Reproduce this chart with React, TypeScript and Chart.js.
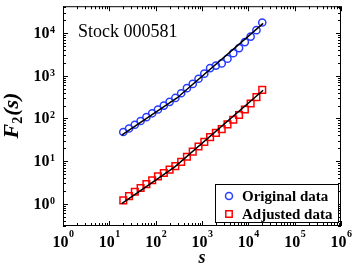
import { useEffect, useRef } from 'react';
import { Chart, registerables } from 'chart.js';

Chart.register(...registerables);

// ---- data ----
const windowSizes = [20, 26.6, 35.5, 47.3, 63.1, 84.1, 112, 150, 200, 266, 355, 473, 631, 841, 1122, 1496, 1995, 2661, 3548, 4732, 6310, 8414, 11220, 14962, 19953];
const originalF = [48, 58, 71, 87, 107, 132, 162, 200, 245, 302, 389, 513, 646, 851, 1122, 1514, 1738, 1950, 2512, 3388, 4467, 6166, 8318, 11750, 17780];
const adjustedF = [1.2, 1.51, 1.91, 2.34, 2.88, 3.55, 4.37, 5.25, 6.31, 7.59, 9.55, 12.6, 16.6, 21.9, 28.2, 36.3, 45.7, 56.2, 72.4, 93.3, 120, 162, 224, 316, 468];
const originalFitS = [18.5, 288, 20900];
const originalFitF = [40.7, 302, 16980];
const adjustedFitS = [18.5, 263, 20900];
const adjustedFitF = [1.0, 7.41, 457];
const xTickExponents = [0, 1, 2, 3, 4, 5, 6];
const yTickExponents = [0, 1, 2, 3, 4];
const seriesLabels = ['Original data', 'Adjusted data'];
const annotationText = 'Stock 000581';
const xTitle = 's';

const SERIF = '"Liberation Serif", "Times New Roman", serif';
const BLUE = 'rgb(40,60,255)';
const RED = 'rgb(255,0,0)';

const pts = (xs: number[], ys: number[]) => xs.map((v, i) => ({ x: v, y: ys[i] }));

const decor = {
  id: 'decor',
  afterDraw(chart: any) {
    const { ctx, chartArea: a, scales } = chart;
    const xs = scales.x;
    const ys = scales.y;
    ctx.save();
    ctx.strokeStyle = '#000';
    ctx.fillStyle = '#000';
    ctx.lineWidth = 1;
    // frame
    ctx.strokeRect(a.left + 0.5, a.top + 0.5, a.right - a.left - 1, a.bottom - a.top - 1);
    // x ticks
    ctx.beginPath();
    for (let k = 0; k <= 6; k++) {
      for (let m = 1; m <= 9; m++) {
        const v = m * Math.pow(10, k);
        if (v > xs.max * 1.0001) break;
        const px = Math.round(xs.getPixelForValue(v)) + 0.5;
        const len = m === 1 ? 5 : 3;
        ctx.moveTo(px, a.bottom);
        ctx.lineTo(px, a.bottom - len);
        ctx.moveTo(px, a.top);
        ctx.lineTo(px, a.top + len);
      }
    }
    // y ticks
    for (let k = -1; k <= 5; k++) {
      for (let m = 1; m <= 9; m++) {
        const v = m * Math.pow(10, k);
        if (v < ys.min || v > ys.max) continue;
        const py = Math.round(ys.getPixelForValue(v)) + 0.5;
        const len = m === 1 ? 5 : 3;
        ctx.moveTo(a.left, py);
        ctx.lineTo(a.left + len, py);
        ctx.moveTo(a.right, py);
        ctx.lineTo(a.right - len, py);
      }
    }
    ctx.stroke();

    // tick labels
    const bigFont = `bold 16px ${SERIF}`;
    const supFont = `bold 10px ${SERIF}`;
    ctx.textBaseline = 'alphabetic';
    ctx.textAlign = 'left';
    for (const e of xTickExponents) {
      const px = xs.getPixelForValue(Math.pow(10, e));
      ctx.font = bigFont;
      const w10 = ctx.measureText('10').width;
      ctx.font = supFont;
      const we = ctx.measureText(String(e)).width;
      const start = px - (w10 + we) / 2;
      ctx.font = bigFont;
      ctx.fillText('10', start, 247);
      ctx.font = supFont;
      ctx.fillText(String(e), start + w10 + 0.5, 237);
    }
    for (const e of yTickExponents) {
      const py = ys.getPixelForValue(Math.pow(10, e));
      ctx.font = bigFont;
      const w10 = ctx.measureText('10').width;
      ctx.font = supFont;
      const we = ctx.measureText(String(e)).width;
      const right = a.left - 8;
      const start = right - (w10 + we + 0.5);
      ctx.font = bigFont;
      ctx.fillText('10', start, py + 5);
      ctx.font = supFont;
      ctx.fillText(String(e), start + w10 + 0.5, py);
    }

    // x title
    ctx.font = `italic bold 18px ${SERIF}`;
    ctx.textAlign = 'center';
    ctx.fillText(xTitle, (a.left + a.right) / 2, 263);

    // y title F_2(s)
    ctx.save();
    ctx.translate(18, (a.top + a.bottom) / 2);
    ctx.rotate(-Math.PI / 2);
    ctx.textAlign = 'left';
    const fBig = `italic bold 22px ${SERIF}`;
    const fSub = `bold 14px ${SERIF}`;
    ctx.font = fBig;
    const wF = ctx.measureText('F').width;
    const wP = ctx.measureText('(s)').width;
    ctx.font = fSub;
    const w2 = ctx.measureText('2').width;
    let sx = -(wF + w2 + wP) / 2;
    ctx.font = fBig;
    ctx.fillText('F', sx, 0);
    sx += wF;
    ctx.font = fSub;
    ctx.fillText('2', sx, 4);
    sx += w2 + 1;
    ctx.font = fBig;
    ctx.fillText('(s)', sx, 0);
    ctx.restore();

    // annotation
    ctx.textAlign = 'left';
    ctx.font = `18px ${SERIF}`;
    ctx.fillText(annotationText, 78, 37);

    // legend
    const lx = 215.5, ly = 184.5, lw = 123, lh = 38;
    ctx.fillStyle = '#fff';
    ctx.fillRect(lx, ly, lw, lh);
    ctx.strokeStyle = '#000';
    ctx.lineWidth = 1;
    ctx.strokeRect(lx, ly, lw, lh);
    const ds = chart.data.datasets;
    for (let i = 0; i < 2; i++) {
      const d = ds[i];
      const cy = 196 + 18 * i;
      ctx.strokeStyle = d.borderColor;
      ctx.lineWidth = 1.5;
      ctx.beginPath();
      if (d.pointStyle === 'rect') {
        ctx.rect(229 - 3.2, cy - 3.2, 6.4, 6.4);
      } else {
        ctx.arc(229, cy, 3.5, 0, Math.PI * 2);
      }
      ctx.stroke();
      ctx.fillStyle = '#000';
      ctx.font = `bold 15px ${SERIF}`;
      ctx.textBaseline = 'middle';
      ctx.fillText(d.label, 242, cy + 1);
    }
    ctx.restore();
  },
};

export default function App() {
  const ref = useRef<HTMLCanvasElement | null>(null);
  useEffect(() => {
    if (!ref.current) return;
    const chart = new Chart(ref.current, {
      type: 'scatter',
      data: {
        datasets: [
          {
            label: seriesLabels[0],
            data: pts(windowSizes, originalF),
            pointStyle: 'circle',
            pointRadius: 3.6,
            borderColor: BLUE,
            backgroundColor: 'rgba(0,0,0,0)',
            pointBorderWidth: 1.5,
            order: 1,
          },
          {
            label: seriesLabels[1],
            data: pts(windowSizes, adjustedF),
            pointStyle: 'rect',
            pointRadius: 4.7,
            borderColor: RED,
            backgroundColor: 'rgba(0,0,0,0)',
            pointBorderWidth: 1.5,
            order: 1,
          },
          {
            label: 'fit1',
            data: pts(originalFitS, originalFitF),
            showLine: true,
            pointRadius: 0,
            borderColor: '#000',
            borderWidth: 1.5,
            order: 0,
          },
          {
            label: 'fit2',
            data: pts(adjustedFitS, adjustedFitF),
            showLine: true,
            pointRadius: 0,
            borderColor: '#000',
            borderWidth: 1.5,
            order: 0,
          },
        ],
      } as any,
      options: {
        animation: false,
        responsive: false,
        layout: { padding: { left: 63, right: 13, top: 6, bottom: 44 } },
        plugins: { legend: { display: false }, tooltip: { enabled: false } },
        scales: {
          x: {
            type: 'logarithmic',
            min: 1,
            max: 1e6,
            ticks: { display: false },
            grid: { display: false, drawTicks: false },
            border: { display: false },
          },
          y: {
            type: 'logarithmic',
            min: 0.305,
            max: 42850,
            ticks: { display: false },
            grid: { display: false, drawTicks: false },
            border: { display: false },
          },
        },
      } as any,
      plugins: [decor],
    });
    return () => chart.destroy();
  }, []);
  return (
    <div style={{ position: 'fixed', left: 0, top: 0, width: 354, height: 270, background: '#fff' }}>
      <canvas ref={ref} width={354} height={270} style={{ display: 'block' }} />
    </div>
  );
}
